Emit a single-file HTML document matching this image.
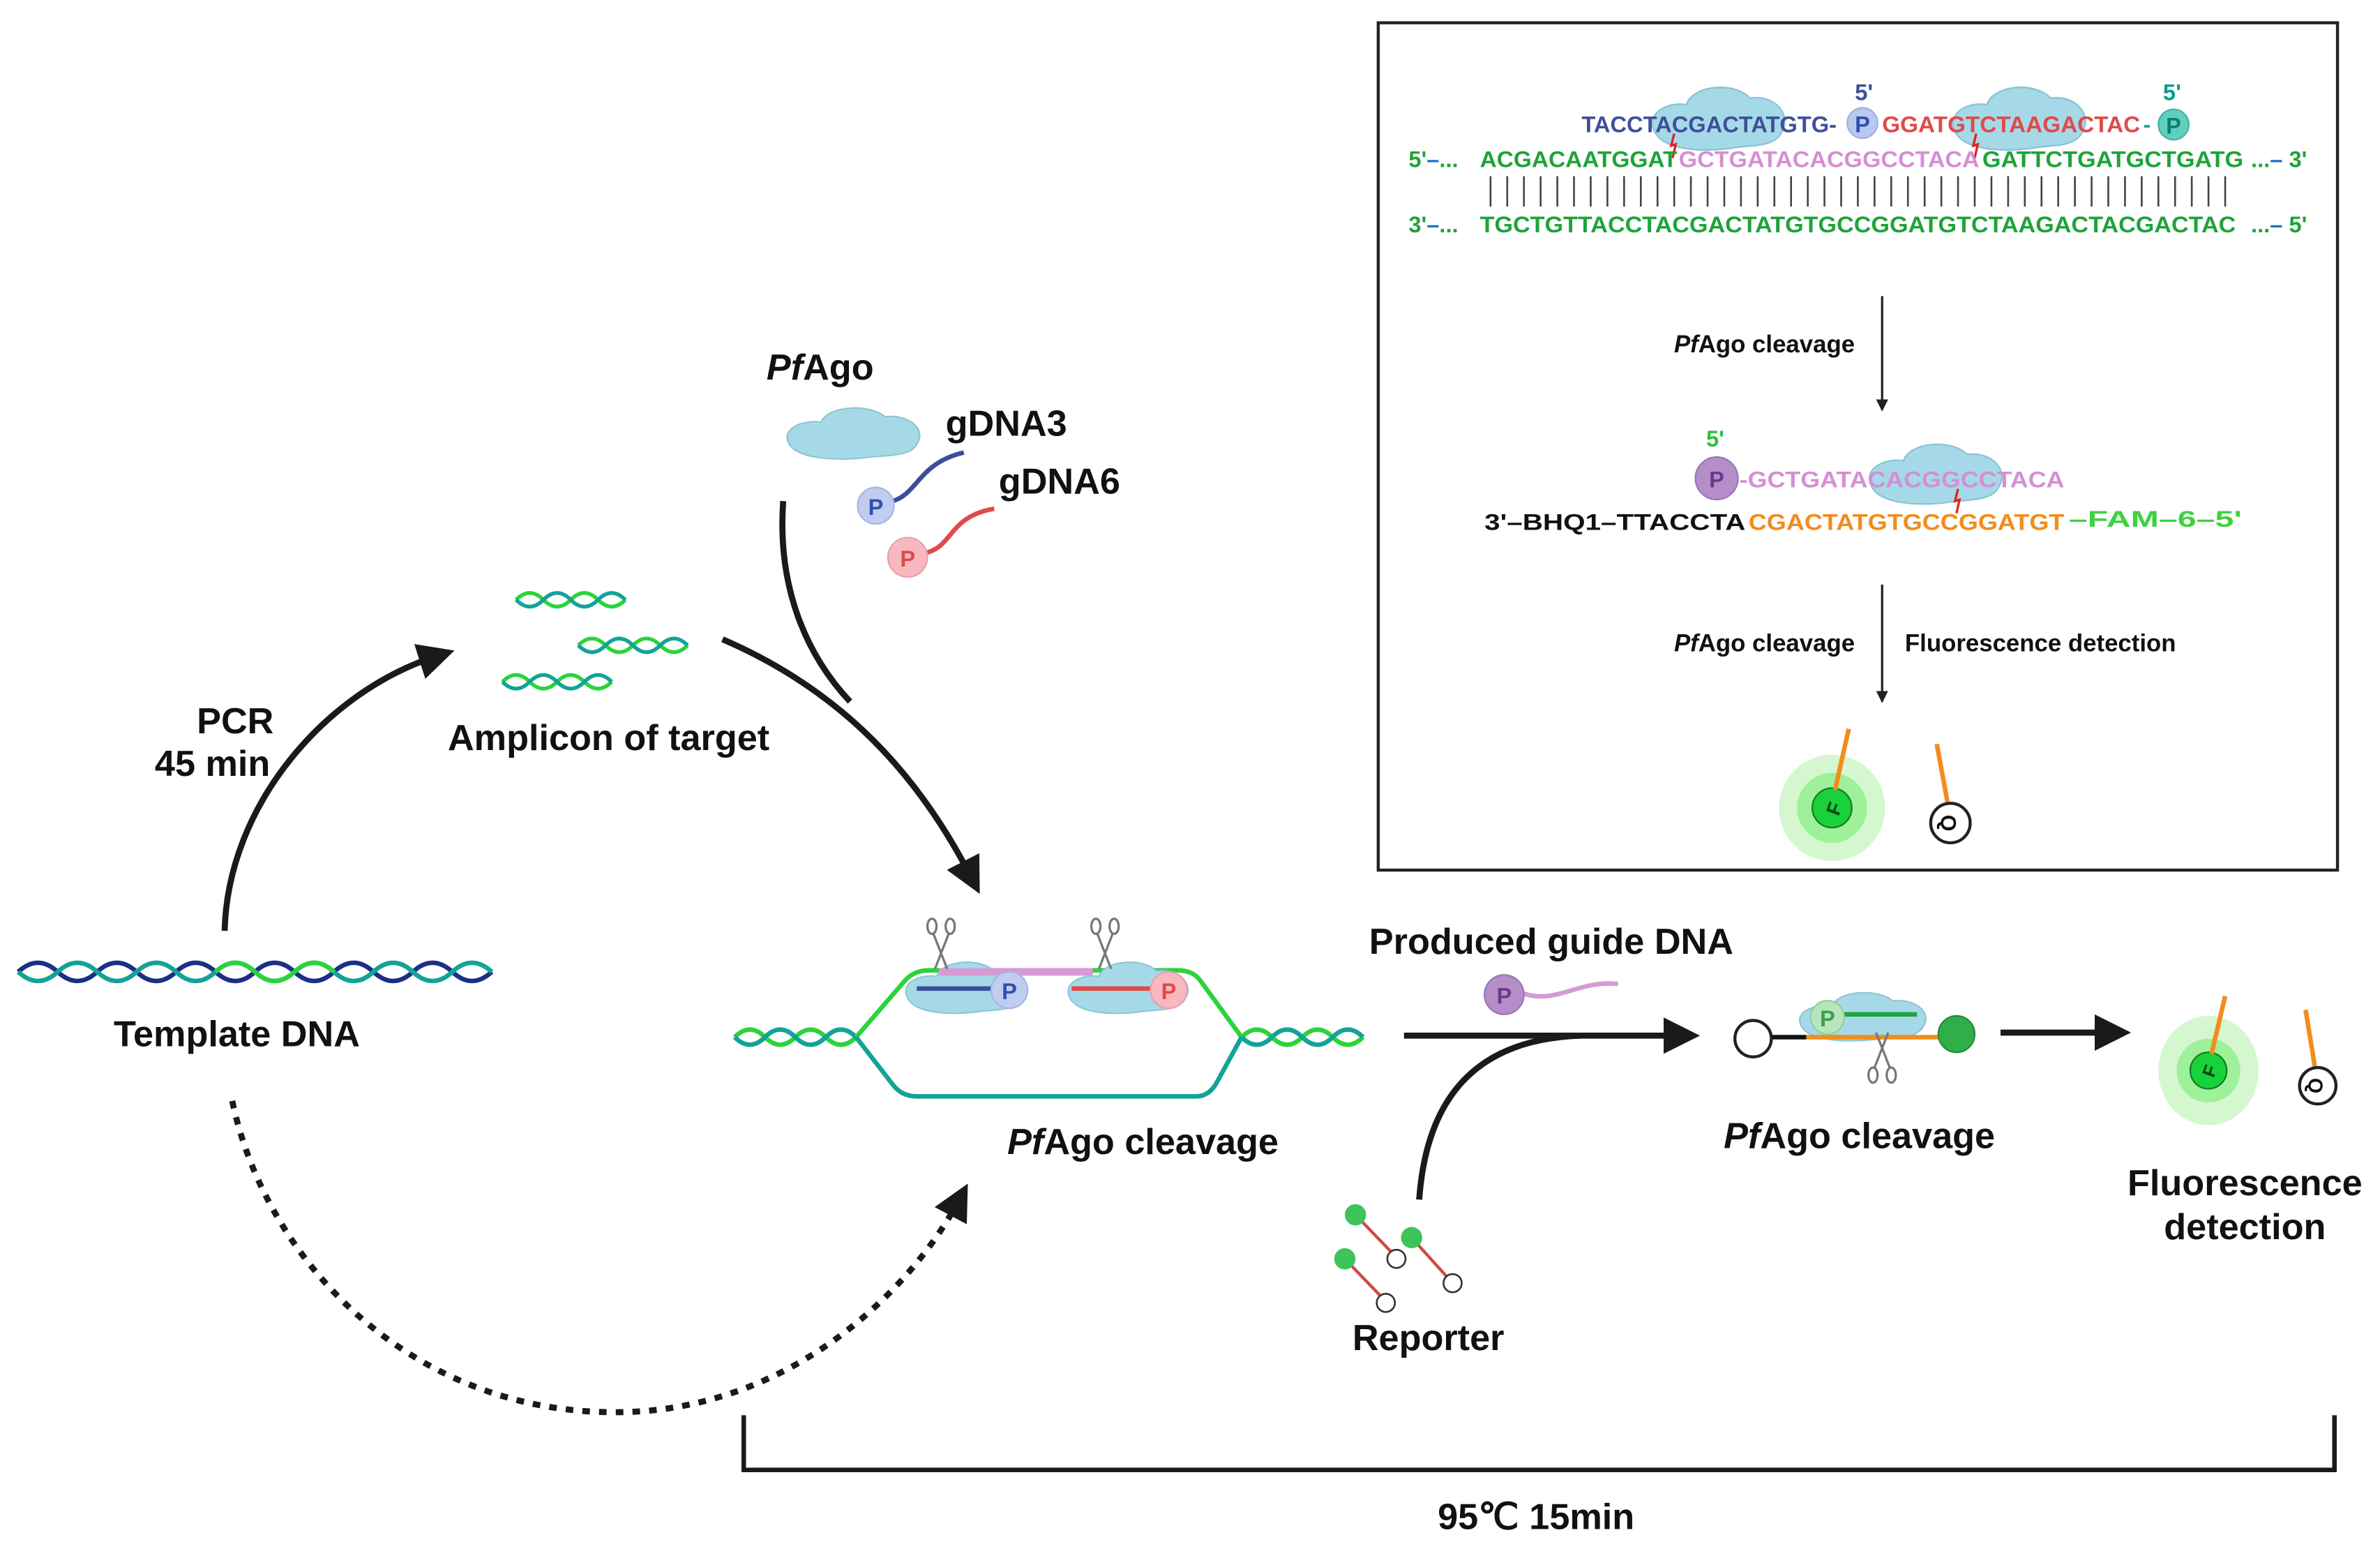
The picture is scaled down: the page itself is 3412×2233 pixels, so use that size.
<!DOCTYPE html>
<html><head><meta charset="utf-8"><style>
html,body{margin:0;padding:0;background:#fff;}
svg{display:block;}
text{font-family:"Liberation Sans",sans-serif;font-weight:bold;}
</style></head><body>
<svg width="3412" height="2233" viewBox="0 0 1568 1026" preserveAspectRatio="none" xmlns="http://www.w3.org/2000/svg">
<defs>
<marker id="ah" markerWidth="6" markerHeight="6" refX="3" refY="3" orient="auto" markerUnits="strokeWidth"><path d="M0,0 L6,3 L0,6 Z" fill="#1a1a1a"/></marker>
<marker id="ahs" markerWidth="8" markerHeight="8" refX="7" refY="4" orient="auto" markerUnits="userSpaceOnUse"><path d="M0,0 L8,4 L0,8 Z" fill="#222"/></marker>
<g id="cloud"><path d="M-40,6 C-46,-6 -30,-12 -20,-10 C-16,-22 10,-24 20,-14 C36,-16 46,-4 40,6 C36,16 18,14 8,16 C-8,18 -34,18 -40,6Z" fill="#a6d9e8" stroke="#8ac4d6" stroke-width="1"/></g>
<g id="sc" fill="none" stroke="#777" stroke-width="1.5"><ellipse cx="-6" cy="-14" rx="3" ry="5"/><ellipse cx="6" cy="-14" rx="3" ry="5"/><path d="M-5,-9 L4,14 M5,-9 L-4,14"/></g>
</defs>

<!-- Inset box -->
<rect x="908" y="15" width="632" height="558" fill="#fff" stroke="#222" stroke-width="2"/>
<use href="#cloud" transform="translate(1132,80) scale(1.05,1.1)"/>
<use href="#cloud" transform="translate(1330,80) scale(1.05,1.1)"/>
<text x="1042" y="87" font-size="15" fill="#3f4f9a" textLength="168" lengthAdjust="spacingAndGlyphs">TACCTACGACTATGTG-</text>
<circle cx="1227" cy="81" r="10" fill="#b9c8ee" stroke="#9fb2e0"/>
<text x="1227" y="87" font-size="15" fill="#2d4fb0" text-anchor="middle">P</text>
<text x="1228" y="66" font-size="15" fill="#3f4f9a" text-anchor="middle">5'</text>
<text x="1240" y="87" font-size="15" fill="#e04a4a" textLength="170" lengthAdjust="spacingAndGlyphs">GGATGTCTAAGACTAC</text>
<text x="1412" y="87" font-size="15" fill="#1aa89a">-</text>
<circle cx="1432" cy="82" r="10" fill="#5fcfbf" stroke="#3fb3a3"/>
<text x="1432" y="88" font-size="15" fill="#0c7f70" text-anchor="middle">P</text>
<text x="1431" y="66" font-size="15" fill="#0a9a8a" text-anchor="middle">5'</text>
<path d="M1103,88 l-2,8 l3,-1 l-2,9 M1302,88 l-2,8 l3,-1 l-2,9" stroke="#e02020" stroke-width="1.5" fill="none"/>
<text x="928" y="110" font-size="15" fill="#1fa33a">5'<tspan fill="#1e6fc8">–</tspan>...</text>
<text x="975" y="110" font-size="15" fill="#1fa33a" textLength="130" lengthAdjust="spacingAndGlyphs">ACGACAATGGAT</text>
<text x="1106" y="110" font-size="15" fill="#d58fd3" textLength="198" lengthAdjust="spacingAndGlyphs">GCTGATACACGGCCTACA</text>
<text x="1306" y="110" font-size="15" fill="#1fa33a" textLength="172" lengthAdjust="spacingAndGlyphs">GATTCTGATGCTGATG</text>
<text x="1483" y="110" font-size="15" fill="#1fa33a">...<tspan fill="#1e6fc8">–</tspan> 3'</text>
<g stroke="#444" stroke-width="1.2">
<path d="M982,116v20M993,116v20M1004,116v20M1015,116v20M1026,116v20M1037,116v20M1048,116v20M1059,116v20M1070,116v20M1081,116v20M1092,116v20M1103,116v20M1114,116v20M1125,116v20M1136,116v20M1147,116v20M1158,116v20M1169,116v20M1180,116v20M1191,116v20M1202,116v20M1213,116v20M1224,116v20M1235,116v20M1246,116v20M1257,116v20M1268,116v20M1279,116v20M1290,116v20M1301,116v20M1312,116v20M1323,116v20M1334,116v20M1345,116v20M1356,116v20M1367,116v20M1378,116v20M1389,116v20M1400,116v20M1411,116v20M1422,116v20M1433,116v20M1444,116v20M1455,116v20M1466,116v20"/>
</g>
<text x="928" y="153" font-size="15" fill="#1fa33a">3'<tspan fill="#1e6fc8">–</tspan>...</text>
<text x="975" y="153" font-size="15" fill="#1fa33a" textLength="498" lengthAdjust="spacingAndGlyphs">TGCTGTTACCTACGACTATGTGCCGGATGTCTAAGACTACGACTAC</text>
<text x="1483" y="153" font-size="15" fill="#1fa33a">...<tspan fill="#1e6fc8">–</tspan> 5'</text>

<line x1="1240" y1="195" x2="1240" y2="270" stroke="#222" stroke-width="1.5" marker-end="url(#ahs)"/>
<text x="1222" y="232" font-size="16" fill="#111" text-anchor="end"><tspan font-style="italic">Pf</tspan>Ago cleavage</text>

<use href="#cloud" transform="translate(1275,314) scale(1.05,1.05)"/>
<text x="1130" y="294" font-size="15" fill="#2fbf3f" text-anchor="middle">5'</text>
<circle cx="1131" cy="315" r="14" fill="#b58ec9" stroke="#9a76b4"/>
<text x="1131" y="321" font-size="15" fill="#6a3a8a" text-anchor="middle">P</text>
<text x="1146" y="321" font-size="15" fill="#d58fd3" textLength="214" lengthAdjust="spacingAndGlyphs">-GCTGATACACGGCCTACA</text>
<path d="M1290,322 l-2,8 l3,-1 l-2,9" stroke="#e02020" stroke-width="1.5" fill="none"/>
<text x="978" y="349" font-size="15" fill="#111" textLength="172" lengthAdjust="spacingAndGlyphs">3'–BHQ1–TTACCTA</text>
<text x="1152" y="349" font-size="15" fill="#f28c1c" textLength="208" lengthAdjust="spacingAndGlyphs">CGACTATGTGCCGGATGT</text>
<text x="1363" y="347" font-size="15" fill="#3fd13f" textLength="114" lengthAdjust="spacingAndGlyphs">–FAM–6–5'</text>

<line x1="1240" y1="385" x2="1240" y2="462" stroke="#222" stroke-width="1.5" marker-end="url(#ahs)"/>
<text x="1222" y="429" font-size="16" fill="#111" text-anchor="end"><tspan font-style="italic">Pf</tspan>Ago cleavage</text>
<text x="1255" y="429" font-size="16" fill="#111">Fluorescence detection</text>

<circle cx="1207" cy="532" r="35" fill="#d4f7d0"/>
<circle cx="1207" cy="532" r="23" fill="#9ef099"/>
<circle cx="1207" cy="532" r="13" fill="#19d13a" stroke="#137a22"/>
<text x="1207" y="538" font-size="13" fill="#0a4a12" text-anchor="middle" transform="rotate(-70 1207 532)">F</text>
<line x1="1209" y1="520" x2="1218" y2="480" stroke="#f28c1c" stroke-width="3"/>
<circle cx="1285" cy="542" r="13" fill="#fff" stroke="#222" stroke-width="2"/>
<text x="1285" y="548" font-size="14" fill="#111" text-anchor="middle" transform="rotate(90 1285 542)">Q</text>
<line x1="1276" y1="490" x2="1283" y2="528" stroke="#f28c1c" stroke-width="3"/>

<!-- Template DNA -->
<path d="M12,640 q13,-12 26,0 t26,0 t26,0 t26,0 t26,0 t26,0 t26,0 t26,0 t26,0 t26,0 t26,0 t26,0" fill="none" stroke="#1b2f86" stroke-width="3"/>
<path d="M12,640 q13,12 26,0 t26,0 t26,0 t26,0 t26,0 t26,0 t26,0 t26,0 t26,0 t26,0 t26,0 t26,0" fill="none" stroke="#12a396" stroke-width="3"/>
<path d="M142,640 q13,-12 26,0 t26,0 t26,0" fill="none" stroke="#2ad43a" stroke-width="3"/>
<text x="156" y="689" font-size="24" fill="#111" text-anchor="middle">Template DNA</text>

<!-- PCR arrow -->
<path d="M148,613 C150,530 215,455 288,432" fill="none" stroke="#1a1a1a" stroke-width="4" marker-end="url(#ah)"/>
<text x="155" y="483" font-size="24" fill="#111" text-anchor="middle">PCR</text>
<text x="140" y="511" font-size="24" fill="#111" text-anchor="middle">45 min</text>

<!-- amplicons -->
<g fill="none" stroke-width="2.5">
<path d="M340,395 q9,-9 18,0 t18,0 t18,0 t18,0" stroke="#2ad43a"/><path d="M340,395 q9,9 18,0 t18,0 t18,0 t18,0" stroke="#12a396"/>
<path d="M381,425 q9,-9 18,0 t18,0 t18,0 t18,0" stroke="#2ad43a"/><path d="M381,425 q9,9 18,0 t18,0 t18,0 t18,0" stroke="#12a396"/>
<path d="M331,449 q9,-9 18,0 t18,0 t18,0 t18,0" stroke="#2ad43a"/><path d="M331,449 q9,9 18,0 t18,0 t18,0 t18,0" stroke="#12a396"/>
</g>
<text x="401" y="494" font-size="24" fill="#111" text-anchor="middle">Amplicon of target</text>

<!-- PfAgo + guides -->
<text x="505" y="250" font-size="24" fill="#111"><tspan font-style="italic">Pf</tspan>Ago</text>
<use href="#cloud" transform="translate(562,287) scale(1.05,0.9)"/>
<text x="623" y="287" font-size="24" fill="#111">gDNA3</text>
<text x="658" y="325" font-size="24" fill="#111">gDNA6</text>
<path d="M588,330 C605,325 605,305 635,298" fill="none" stroke="#3a4f9a" stroke-width="3"/>
<circle cx="577" cy="333" r="12" fill="#c0cdf0" stroke="#a5b6e2"/>
<text x="577" y="339" font-size="15" fill="#3050b0" text-anchor="middle" font-weight="normal">P</text>
<path d="M610,364 C628,360 625,340 655,335" fill="none" stroke="#e04a4a" stroke-width="3"/>
<circle cx="598" cy="367" r="13" fill="#f8b8c0" stroke="#eaa0aa"/>
<text x="598" y="373" font-size="15" fill="#e04a4a" text-anchor="middle" font-weight="normal">P</text>

<!-- arrows into center -->
<path d="M476,421 C555,455 605,510 640,578" fill="none" stroke="#1a1a1a" stroke-width="4" marker-end="url(#ah)"/>
<path d="M516,330 C512,385 530,430 560,462" fill="none" stroke="#1a1a1a" stroke-width="4"/>
<path d="M153,725 C175,830 270,930 405,930 C520,930 600,850 632,790" fill="none" stroke="#1a1a1a" stroke-width="4" stroke-dasharray="5,6" marker-end="url(#ah)"/>

<!-- center bubble -->
<g fill="none" stroke-width="3">
<path d="M484,683 q10,-10 20,0 t20,0 t20,0 t20,0" stroke="#2ad43a"/>
<path d="M484,683 q10,10 20,0 t20,0 t20,0 t20,0" stroke="#12a396"/>
<path d="M818,683 q10,-10 20,0 t20,0 t20,0 t20,0" stroke="#2ad43a"/>
<path d="M818,683 q10,10 20,0 t20,0 t20,0 t20,0" stroke="#12a396"/>
<path d="M564,683 L596,646 Q602,639 612,639 L776,639 Q786,639 791,646 L818,683" stroke="#2ad43a"/>
<path d="M564,683 L588,714 Q594,722 604,722 L788,722 Q796,722 801,714 L818,683" stroke="#12a396"/>
</g>
<use href="#cloud" transform="translate(636,652) scale(0.95,0.9)"/>
<use href="#cloud" transform="translate(743,652) scale(0.95,0.9)"/>
<line x1="619" y1="640" x2="720" y2="640" stroke="#d69ad6" stroke-width="5"/>
<line x1="604" y1="651" x2="656" y2="651" stroke="#3a4f9a" stroke-width="3"/>
<circle cx="665" cy="652" r="12" fill="#c0cdf0" stroke="#a5b6e2"/>
<text x="665" y="658" font-size="15" fill="#3050b0" text-anchor="middle" font-weight="normal">P</text>
<line x1="706" y1="651" x2="762" y2="651" stroke="#e04a4a" stroke-width="3"/>
<circle cx="770" cy="652" r="12" fill="#f8b8c0" stroke="#eaa0aa"/>
<text x="770" y="658" font-size="15" fill="#e04a4a" text-anchor="middle" font-weight="normal">P</text>
<use href="#sc" transform="translate(620,624)"/>
<use href="#sc" transform="translate(728,624)"/>
<text x="753" y="760" font-size="24" fill="#111" text-anchor="middle"><tspan font-style="italic">Pf</tspan>Ago cleavage</text>

<!-- produced guide -->
<text x="1022" y="628" font-size="24" fill="#111" text-anchor="middle">Produced guide DNA</text>
<path d="M1003,654 C1025,662 1040,645 1066,648" fill="none" stroke="#d69ad6" stroke-width="3"/>
<circle cx="991" cy="655" r="13" fill="#b58ec9" stroke="#9a76b4"/>
<text x="991" y="661" font-size="15" fill="#6a3a8a" text-anchor="middle" font-weight="normal">P</text>
<line x1="925" y1="682" x2="1108" y2="682" stroke="#1a1a1a" stroke-width="4" marker-end="url(#ah)"/>
<path d="M935,790 C940,720 975,684 1042,682" fill="none" stroke="#1a1a1a" stroke-width="4"/>

<!-- reporters -->
<g stroke="#d04848" stroke-width="2"><line x1="893" y1="800" x2="920" y2="828"/><line x1="930" y1="815" x2="957" y2="845"/><line x1="886" y1="829" x2="913" y2="857"/></g>
<g fill="#3ec25a"><circle cx="893" cy="800" r="7"/><circle cx="930" cy="815" r="7"/><circle cx="886" cy="829" r="7"/></g>
<g fill="#fff" stroke="#333" stroke-width="1.2"><circle cx="920" cy="829" r="6"/><circle cx="957" cy="845" r="6"/><circle cx="913" cy="858" r="6"/></g>
<text x="941" y="889" font-size="24" fill="#111" text-anchor="middle">Reporter</text>

<!-- cleavage of reporter -->
<use href="#cloud" transform="translate(1227,671) scale(1,0.85)"/>
<line x1="1167" y1="683" x2="1190" y2="683" stroke="#111" stroke-width="3"/>
<line x1="1190" y1="683" x2="1280" y2="683" stroke="#f28c1c" stroke-width="3"/>
<line x1="1210" y1="668" x2="1263" y2="668" stroke="#1fa33a" stroke-width="3"/>
<circle cx="1204" cy="670" r="11" fill="#b7e6bd" stroke="#8fcf98"/>
<text x="1204" y="676" font-size="15" fill="#3aa04a" text-anchor="middle" font-weight="normal">P</text>
<circle cx="1155" cy="684" r="12" fill="#fff" stroke="#222" stroke-width="2"/>
<circle cx="1289" cy="681" r="12" fill="#2fae4a" stroke="#238a3a"/>
<use href="#sc" transform="translate(1240,694) rotate(180)"/>
<text x="1225" y="756" font-size="24" fill="#111" text-anchor="middle"><tspan font-style="italic">Pf</tspan>Ago cleavage</text>

<line x1="1318" y1="680" x2="1392" y2="680" stroke="#1a1a1a" stroke-width="4" marker-end="url(#ah)"/>
<ellipse cx="1455" cy="705" rx="33" ry="36" fill="#d4f7d0"/>
<circle cx="1455" cy="705" r="21" fill="#9ef099"/>
<circle cx="1455" cy="705" r="12" fill="#19d13a" stroke="#137a22"/>
<text x="1455" y="710" font-size="12" fill="#0a4a12" text-anchor="middle" transform="rotate(-70 1455 705)">F</text>
<line x1="1457" y1="694" x2="1466" y2="656" stroke="#f28c1c" stroke-width="3"/>
<circle cx="1527" cy="715" r="12" fill="#fff" stroke="#222" stroke-width="2"/>
<text x="1527" y="721" font-size="13" fill="#111" text-anchor="middle" transform="rotate(90 1527 715)">Q</text>
<line x1="1519" y1="665" x2="1525" y2="702" stroke="#f28c1c" stroke-width="3"/>
<text x="1479" y="787" font-size="24" fill="#111" text-anchor="middle">Fluorescence</text>
<text x="1479" y="816" font-size="24" fill="#111" text-anchor="middle">detection</text>

<!-- bracket -->
<path d="M490,932 L490,968 L1538,968 L1538,932" fill="none" stroke="#1a1a1a" stroke-width="3"/>
<text x="1012" y="1007" font-size="24" fill="#111" text-anchor="middle">95℃ 15min</text>
</svg>
</body></html>
